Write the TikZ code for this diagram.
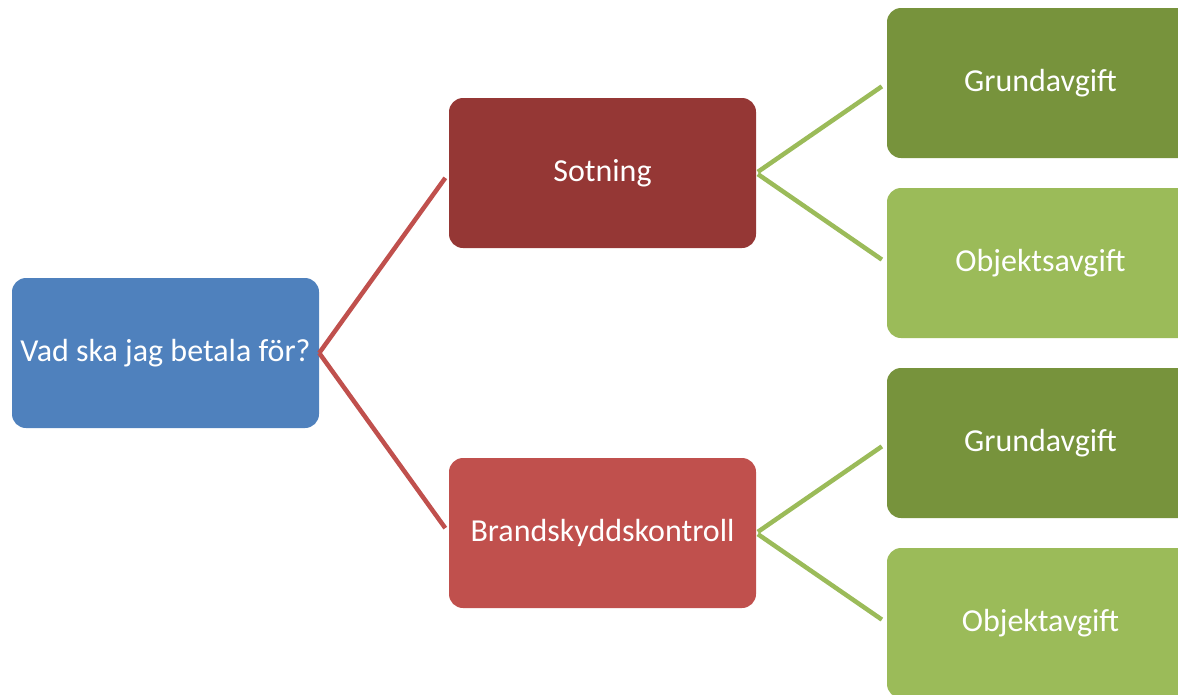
\documentclass[tikz,border=0pt]{standalone}
\usepackage{fontspec}
\setmainfont{Carlito}
\definecolor{fragablue}{HTML}{4F81BD}
\definecolor{sotred}{HTML}{953735}
\definecolor{brandred}{HTML}{C0504D}
\definecolor{avgdark}{HTML}{77933C}
\definecolor{avglight}{HTML}{9BBB59}
\begin{document}
\begin{tikzpicture}[x=1pt,y=-1pt,
	box/.style={rounded corners=14pt,minimum width=307pt,minimum height=150pt,inner sep=0pt,text=white,font=\fontsize{32}{38}\selectfont},
	redline/.style={line width=4.5pt,brandred,shorten >=6pt},
	greenline/.style={line width=4.5pt,avglight,shorten <=2pt,shorten >=6pt}]
		\useasboundingbox (0,0) rectangle (1178,694);
		\node[box,fill=fragablue] (fraga) at (165.5,353) {Vad ska jag betala för?};
		\node[box,fill=sotred] (sotning) at (602.5,173) {Sotning};
		\node[box,fill=brandred] (brand) at (602.5,533) {Brandskyddskontroll};
		\node[box,fill=avgdark] (grund1) at (1040.5,83) {Grundavgift};
		\node[box,fill=avglight] (objekt1) at (1040.5,263) {Objektsavgift};
		\node[box,fill=avgdark] (grund2) at (1040.5,443) {Grundavgift};
		\node[box,fill=avglight] (objekt2) at (1040.5,623) {Objektavgift};
		\foreach \b in {sotning,brand}\draw[redline] (fraga.east)--(\b.west);
		\foreach \a/\b in {sotning/grund1,sotning/objekt1,brand/grund2,brand/objekt2}\draw[greenline] (\a.east)--(\b.west);
\end{tikzpicture}
\end{document}
